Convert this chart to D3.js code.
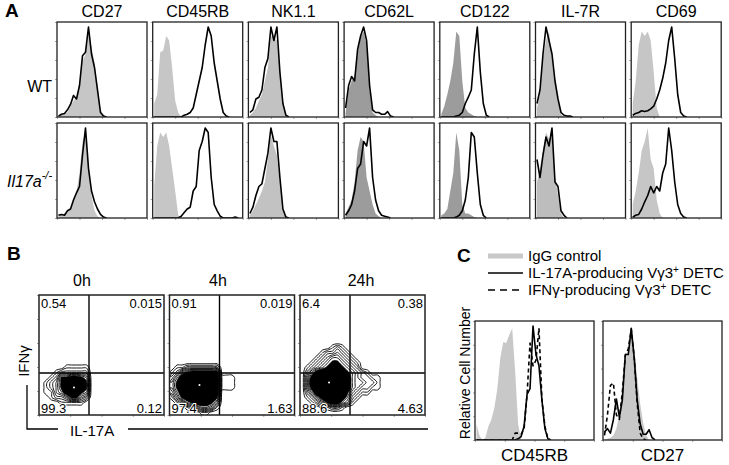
<!DOCTYPE html>
<html>
<head>
<meta charset="utf-8">
<script src="https://cdn.jsdelivr.net/npm/d3@7"></script>
<style>
  body { margin: 0; background: #fff; }
</style>
</head>
<body>
<div id="container"></div>
<script>
// ---- panel A: surface markers, WT vs Il17a-/- (30 bins per histogram, % of max)
const markers = ["CD27", "CD45RB", "NK1.1", "CD62L", "CD122", "IL-7R", "CD69"]
const isoFill = ["#c6c6c6", "#c6c6c6", "#c2c2c2", "#9c9c9c", "#9c9c9c", "#bdbdbd", "#c6c6c6"]

const wtIso = [
  [2, 3, 4, 5, 12, 18, 22, 38, 62, 70, 92, 78, 60, 35, 8, 2, 0],
  [15, 25, 72, 74, 90, 85, 54, 18, 5, 0],
  [2, 5, 10, 18, 25, 40, 55, 90, 88, 85, 50, 12, 1, 0],
  [5, 30, 40, 45, 70, 88, 95, 80, 30, 5, 2, 0],
  [3, 12, 25, 40, 60, 95, 90, 40, 10, 5, 3, 1, 0],
  [10, 25, 65, 85, 95, 65, 38, 18, 3, 0],
  [15, 40, 80, 95, 90, 95, 85, 50, 10, 0]
]
const wtStain = [
  [1, 3, 4, 8, 14, 24, 20, 35, 68, 72, 100, 70, 55, 30, 5, 1, 0],
  [0, 0, 0, 0, 0, 0, 0, 0, 0, 0, 2, 3, 5, 10, 25, 40, 55, 80, 100, 90, 60, 40, 20, 5, 1, 0],
  [5, 8, 20, 22, 30, 55, 65, 100, 85, 100, 50, 15, 2, 0],
  [10, 35, 45, 40, 75, 90, 100, 85, 35, 8, 5, 5, 3, 3, 6, 1, 0],
  [0, 0, 0, 0, 0, 1, 2, 5, 15, 22, 30, 70, 100, 50, 15, 2, 0],
  [15, 30, 70, 100, 85, 70, 40, 20, 5, 2, 1, 1, 0],
  [2, 4, 5, 7, 6, 7, 9, 12, 20, 30, 43, 60, 85, 100, 65, 25, 5, 1, 0]
]
const koIso = [
  [5, 3, 5, 6, 10, 18, 30, 50, 85, 95, 60, 25, 8, 2, 0],
  [35, 80, 95, 90, 95, 80, 55, 30, 3, 0],
  [3, 8, 15, 22, 30, 40, 65, 92, 80, 70, 40, 8, 0],
  [5, 12, 20, 40, 75, 90, 85, 45, 30, 15, 5, 2, 0],
  [3, 5, 10, 30, 50, 95, 75, 15, 5, 5, 3, 1, 0],
  [40, 55, 75, 95, 88, 90, 45, 25, 5, 0],
  [15, 30, 50, 75, 85, 100, 65, 55, 20, 5, 0]
]
const koStain = [
  [3, 4, 3, 8, 10, 20, 28, 35, 70, 100, 55, 30, 18, 10, 4, 1, 0],
  [0, 0, 0, 0, 0, 0, 0, 0, 0, 2, 6, 10, 12, 30, 35, 75, 85, 100, 95, 45, 15, 8, 2, 0, 0, 0, 0, 1, 0],
  [5, 12, 25, 35, 38, 55, 72, 100, 85, 85, 45, 10, 1, 0],
  [3, 8, 15, 30, 55, 60, 85, 80, 100, 45, 20, 8, 3, 2, 1, 0],
  [0, 0, 0, 0, 0, 1, 3, 8, 20, 45, 95, 90, 50, 15, 3, 0],
  [65, 45, 70, 90, 80, 100, 40, 35, 8, 3, 0],
  [1, 3, 4, 10, 18, 25, 35, 28, 35, 30, 50, 60, 100, 75, 40, 15, 5, 1, 0]
]

// ---- panel B: IL-17A vs IFNg density grids (18 x 16 cells, lower part of plot)
const timepoints = ["0h", "4h", "24h"]
const quadrants = [
  ["0.54", "0.015", "99.3", "0.12"],
  ["0.91", "0.019", "97.4", "1.63"],
  ["6.4", "0.38", "88.6", "4.63"]
]
const grid0h = [
  "000000000000000000",
  "000000000000000000",
  "000000000000000000",
  "000000000000000000",
  "000000000000000000",
  "000000000000000000",
  "000001111100000000",
  "000122222200000000",
  "001255665400000000",
  "012357886500000000",
  "012358996500000000",
  "011346775400000000",
  "001223553200000000",
  "000011111000000000",
  "000000000000000000",
  "000000000000000000"
]
const grid4h = [
  "000000000000000000",
  "000000000000000000",
  "000000000000000000",
  "000000000000000000",
  "000000000000000000",
  "000000000000000000",
  "011222222200000000",
  "124566666600000000",
  "246788888711100000",
  "357899998711100000",
  "357899998711100000",
  "246788888700000000",
  "135677776500000000",
  "012456665300000000",
  "000123443100000000",
  "000000110000000000"
]
const grid24h = [
  "000000000000000000",
  "000000000000000000",
  "000000121000000000",
  "000012232100000000",
  "000123443210000000",
  "001234554321000000",
  "012345665432000000",
  "024678887543210000",
  "036899998643221100",
  "037999998643322100",
  "036899998643221100",
  "024788887532110000",
  "012467776421000000",
  "001235664310000000",
  "000011221000000000",
  "000000000000000000"
]
const grids = [grid0h, grid4h, grid24h]

// ---- panel C: 40 bins per histogram
const cMarkers = ["CD45RB", "CD27"]
const cIgG = [
  [14, 4, 0, 2, 12, 18, 28, 45, 72, 86, 85, 92, 98, 60, 14, 0],
  [0, 1, 2, 4, 10, 22, 45, 70, 78, 98, 80, 55, 32, 15, 4, 0]
]
const cIL17 = [
  [0, 0, 0, 0, 0, 0, 0, 0, 0, 0, 0, 0, 0, 0, 1, 3, 12, 40, 45, 100, 75, 65, 35, 10, 1, 0],
  [7, 10, 6, 18, 36, 20, 35, 75, 75, 98, 72, 35, 14, 5, 5, 9, 2, 0]
]
const cIFNg = [
  [0, 0, 0, 0, 0, 0, 0, 0, 0, 0, 0, 0, 0, 6, 6, 5, 10, 40, 85, 65, 70, 98, 35, 12, 1, 0],
  [4, 22, 48, 50, 22, 18, 42, 74, 80, 97, 72, 32, 6, 1, 0]
]

const FONT = "'Liberation Sans', Arial, Helvetica, sans-serif"

const svg = d3.select("#container").append("svg")
  .attr("width", 729)
  .attr("height", 465)
  .style("font-family", FONT)
  .style("background", "#fff")

let clipId = 0

function frame(bx, by, w, h, borderWidth) {
  const g = svg.append("g")
  const yt = d3.scaleLinear().domain([0, 100]).range([by + h, by])
  const xt = d3.scaleLog().domain([10, 1e5]).range([bx, bx + w])
  g.append("g")
    .attr("transform", `translate(${bx},0)`)
    .call(d3.axisLeft(yt).ticks(5).tickSize(2).tickFormat(""))
    .call(a => a.select(".domain").remove())
    .call(a => a.selectAll("line").attr("stroke", "#666").attr("stroke-width", 0.6))
  g.append("g")
    .attr("transform", `translate(0,${by + h})`)
    .call(d3.axisBottom(xt).ticks(4).tickSize(2).tickFormat(""))
    .call(a => a.select(".domain").remove())
    .call(a => a.selectAll("line").attr("stroke", "#666").attr("stroke-width", 0.6))
  g.append("rect")
    .attr("x", bx).attr("y", by)
    .attr("width", w).attr("height", h)
    .attr("fill", "none")
    .attr("stroke", "#222")
    .attr("stroke-width", borderWidth)
}

function histBox(bx, by, w, h, nBins, series) {
  const id = "clip" + (clipId++)
  svg.append("clipPath").attr("id", id)
    .append("rect").attr("x", bx).attr("y", by).attr("width", w).attr("height", h)
  const g = svg.append("g").attr("clip-path", `url(#${id})`)
  const x = d3.scaleLinear().domain([0, nBins]).range([bx, bx + w])
  const y = d3.scaleLinear().domain([0, 100]).range([by + h, by + 5])
  const area = d3.area().x((d, i) => x(i + 0.5)).y0(y(0)).y1(d => y(d))
  const line = d3.line().x((d, i) => x(i + 0.5)).y(d => y(d))
  series.forEach(s => {
    if (s.fill) {
      g.append("path").attr("d", area(s.values)).attr("fill", s.fill)
    } else {
      g.append("path").attr("d", line(s.values))
        .attr("fill", "none")
        .attr("stroke", "#000")
        .attr("stroke-width", 1.6)
        .attr("stroke-linejoin", "round")
        .attr("stroke-dasharray", s.dash || null)
    }
  })
  frame(bx, by, w, h, 1.3)
}

// ---------------- Panel A
svg.append("text").attr("x", 5).attr("y", 17)
  .attr("font-size", 19).attr("font-weight", "bold").text("A")

const rowTop = [22, 123]
markers.forEach((m, i) => {
  const bx = 57 + i * 95.7
  svg.append("text")
    .attr("x", bx + 45).attr("y", 17)
    .attr("text-anchor", "middle")
    .attr("font-size", 16)
    .text(m)
  histBox(bx, rowTop[0], 90, 95, 30, [{ values: wtIso[i], fill: isoFill[i] }, { values: wtStain[i] }])
  histBox(bx, rowTop[1], 90, 95, 30, [{ values: koIso[i], fill: isoFill[i] }, { values: koStain[i] }])
})

svg.append("text").attr("x", 52).attr("y", 92)
  .attr("text-anchor", "end").attr("font-size", 16).text("WT")

const koLabel = svg.append("text").attr("x", 7).attr("y", 187)
  .attr("font-size", 16).attr("font-style", "italic")
koLabel.append("tspan").text("Il17a")
koLabel.append("tspan").attr("font-size", 11).attr("dy", -8).text("-/-")

// ---------------- Panel B
svg.append("text").attr("x", 7).attr("y", 260)
  .attr("font-size", 19).attr("font-weight", "bold").text("B")

const bX = [39, 169.5, 300]
const titleX = [82, 218, 361]
const bY = 295, bW = 125, bH = 120
const cols = 18, rows = 16, cell = 5, gridTop = 40
const levels = d3.range(0.5, 9, 0.6)
const coreLevel = levels[7]

timepoints.forEach((t, k) => {
  const bx = bX[k]
  svg.append("text").attr("x", titleX[k]).attr("y", 286)
    .attr("text-anchor", "middle").attr("font-size", 16).text(t)

  const id = "clip" + (clipId++)
  svg.append("clipPath").attr("id", id)
    .append("rect").attr("x", bx).attr("y", bY).attr("width", bW).attr("height", bH)
  const g = svg.append("g").attr("clip-path", `url(#${id})`)

  const values = grids[k].join("").split("").map(Number)
  const contours = d3.contours()
    .size([cols, rows])
    .thresholds(levels)(values)
  const sx = d3.scaleLinear().domain([0, cols]).range([bx, bx + cols * cell])
  const sy = d3.scaleLinear().domain([0, rows]).range([bY + gridTop, bY + gridTop + rows * cell])
  const ring = d3.line()
    .x(p => sx(p[0])).y(p => sy(p[1]))
    .curve(d3.curveCatmullRomClosed.alpha(0.5))

  contours.forEach(c => {
    if (c.value > coreLevel + 0.01) return
    const solid = c.value > coreLevel - 0.01
    c.coordinates.forEach(poly => {
      const d = poly.map(r => ring(r.slice(0, -1))).join("")
      g.append("path")
        .attr("d", d)
        .attr("fill", solid ? "#000" : "none")
        .attr("fill-rule", "evenodd")
        .attr("stroke", "#000")
        .attr("stroke-width", 0.9)
    })
  })

  // white dot at the centre of the densest cells
  const top = d3.max(values)
  const peakCells = values.map((v, i) => i).filter(i => values[i] === top)
  g.append("circle")
    .attr("cx", sx(d3.mean(peakCells, i => i % cols) + 0.5))
    .attr("cy", sy(d3.mean(peakCells, i => Math.floor(i / cols)) + 0.5))
    .attr("r", 1).attr("fill", "#fff")

  // quadrant gates
  const qx = bx + 50, qy = bY + 78
  svg.append("line").attr("x1", qx).attr("x2", qx).attr("y1", bY).attr("y2", bY + bH)
    .attr("stroke", "#000").attr("stroke-width", 1.4)
  svg.append("line").attr("x1", bx).attr("x2", bx + bW).attr("y1", qy).attr("y2", qy)
    .attr("stroke", "#000").attr("stroke-width", 1.4)

  frame(bx, bY, bW, bH, 1.5)

  const q = quadrants[k]
  const qt = [
    [bx + 2, bY + 13, "start", q[0]],
    [bx + bW - 2, bY + 13, "end", q[1]],
    [bx + 2, bY + bH - 2, "start", q[2]],
    [bx + bW - 2, bY + bH - 2, "end", q[3]]
  ]
  qt.forEach(([x, y, a, s]) => {
    svg.append("text").attr("x", x).attr("y", y)
      .attr("text-anchor", a).attr("font-size", 13)
      .attr("stroke", "#fff").attr("stroke-width", 2).attr("paint-order", "stroke")
      .text(s)
  })
})

svg.append("text")
  .attr("transform", "translate(29,361) rotate(-90)")
  .attr("text-anchor", "middle").attr("font-size", 15)
  .text("IFNγ")
svg.append("path")
  .attr("d", "M27,385V429H58M128,429H428")
  .attr("fill", "none").attr("stroke", "#000").attr("stroke-width", 1.3)
svg.append("text").attr("x", 70).attr("y", 436)
  .attr("font-size", 15).text("IL-17A")

// ---------------- Panel C
svg.append("text").attr("x", 457).attr("y", 262)
  .attr("font-size", 19).attr("font-weight", "bold").text("C")

const legend = [
  { label: "IgG control", y: 256, stroke: "#c8c8c8", width: 5, dash: null, sup: false },
  { label: "IL-17A-producing Vγ3", y: 273, stroke: "#000", width: 1.5, dash: null, sup: true },
  { label: "IFNγ-producing Vγ3", y: 290, stroke: "#000", width: 1.5, dash: "7,5", sup: true }
]
legend.forEach(l => {
  svg.append("line").attr("x1", 488).attr("x2", 523).attr("y1", l.y).attr("y2", l.y)
    .attr("stroke", l.stroke).attr("stroke-width", l.width).attr("stroke-dasharray", l.dash)
  const t = svg.append("text").attr("x", 528).attr("y", l.y + 5).attr("font-size", 15)
  t.append("tspan").text(l.label)
  if (l.sup) {
    t.append("tspan").attr("font-size", 10).attr("dy", -5).text("+")
    t.append("tspan").attr("dy", 5).text(" DETC")
  }
})

const cX = [475, 603]
const cY = 321, cW = 119, cH = 119
cMarkers.forEach((m, i) => {
  histBox(cX[i], cY, cW, cH, 40, [
    { values: cIgG[i], fill: "#c8c8c8" },
    { values: cIL17[i] },
    { values: cIFNg[i], dash: "4,3" }
  ])
  svg.append("text").attr("x", cX[i] + cW / 2).attr("y", 461)
    .attr("text-anchor", "middle").attr("font-size", 17).text(m)
})
svg.append("text")
  .attr("transform", "translate(470,373) rotate(-90)")
  .attr("text-anchor", "middle").attr("font-size", 14)
  .text("Relative Cell Number")
</script>
</body>
</html>
